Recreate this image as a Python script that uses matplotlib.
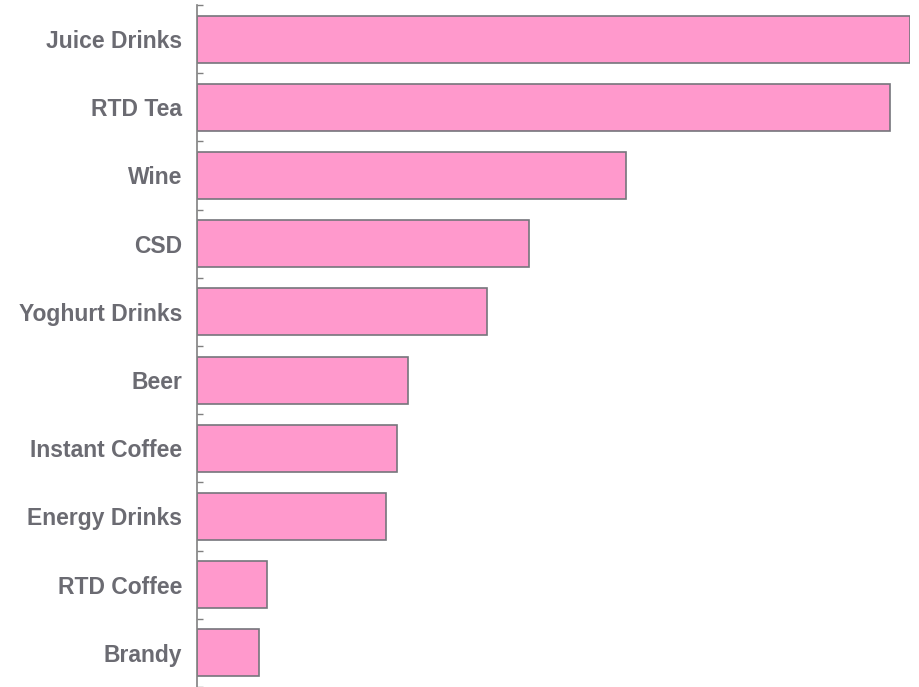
import matplotlib.pyplot as plt
import numpy as np

categories = ["Juice Drinks", "RTD Tea", "Wine", "CSD", "Yoghurt Drinks",
              "Beer", "Instant Coffee", "Energy Drinks", "RTD Coffee", "Brandy"]
values = [713, 693, 429, 332, 290, 211, 200, 189, 70, 62]

plt.rcParams['font.family'] = ['Liberation Sans', 'DejaVu Sans']

fig = plt.figure(figsize=(9.19, 6.87), dpi=100)
ax = fig.add_axes([197/919, 0, 713/919, 682/687])

y = np.arange(len(categories))
ax.barh(y, values, height=0.69, color="#FF99CC", edgecolor="#75757c", linewidth=1.2)

ax.set_xlim(0, 713)
ax.set_ylim(len(categories) - 0.5, -0.5)

for side in ['top', 'right', 'bottom']:
    ax.spines[side].set_visible(False)
ax.spines['left'].set_color('#808080')
ax.spines['left'].set_linewidth(1.2)

ax.set_xticks([])
ax.set_yticks(y)
ax.set_yticklabels(categories, fontsize=16.5, fontweight='bold', color='#6b6b72')
ax.tick_params(axis='y', which='major', length=0, pad=10.8)

# small inward ticks between the categories
ax.set_yticks(np.arange(len(categories) + 1) - 0.5, minor=True)
ax.tick_params(axis='y', which='minor', direction='in', length=4, width=1, color='#808080')

plt.savefig("out.png", dpi=100)
